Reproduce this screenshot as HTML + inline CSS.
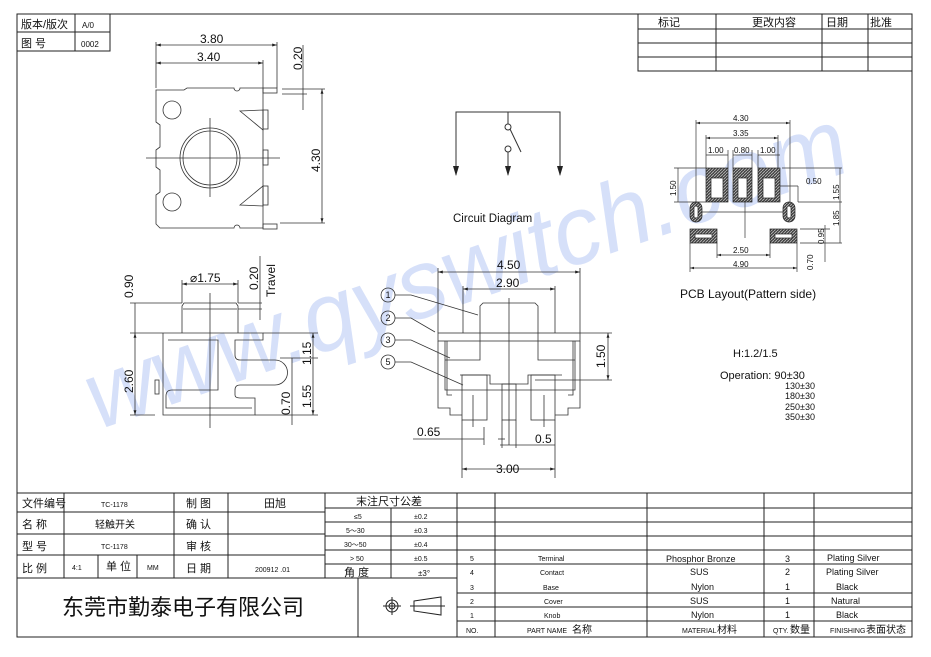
<!DOCTYPE html>
<html><head><meta charset="utf-8"><style>
html,body{margin:0;padding:0;background:#fff;}
svg{display:block;}
text{font-family:"Liberation Sans","Noto Sans CJK SC",sans-serif;fill:#111;}
</style></head><body>
<svg width="931" height="657" viewBox="0 0 931 657" xmlns="http://www.w3.org/2000/svg">
<defs>
<pattern id="h" width="3" height="3" patternUnits="userSpaceOnUse"><rect width="3" height="3" fill="#444"/><path d="M0 3L3 0" stroke="#bbb" stroke-width="0.8"/></pattern>
<marker id="a" viewBox="0 0 10 10" refX="10" refY="5" markerWidth="6" markerHeight="6" orient="auto-start-reverse"><path d="M0 2L10 5L0 8z" fill="#222"/></marker>
</defs>
<text x="98" y="430" transform="rotate(-19 98 430)" font-size="97" font-style="italic" style="fill:#c9d6f7;font-family:'Liberation Sans',sans-serif" opacity="0.75" textLength="800" lengthAdjust="spacingAndGlyphs">www.qyswitch.com</text>

<g stroke="#222" fill="none" stroke-width="1">
<rect x="17" y="14" width="895" height="623"/>
<rect x="17" y="14" width="93" height="37"/><line x1="17" y1="32" x2="110" y2="32"/><line x1="75" y1="14" x2="75" y2="51"/>
<rect x="638" y="14" width="274" height="57"/>
<line x1="638" y1="29" x2="912" y2="29"/><line x1="638" y1="43" x2="912" y2="43"/><line x1="638" y1="57" x2="912" y2="57"/>
<line x1="716" y1="14" x2="716" y2="71"/><line x1="822" y1="14" x2="822" y2="71"/><line x1="868" y1="14" x2="868" y2="71"/>
<line x1="17" y1="493" x2="912" y2="493"/>
<line x1="17" y1="512" x2="325" y2="512"/><line x1="17" y1="534" x2="325" y2="534"/><line x1="17" y1="555" x2="325" y2="555"/>
<line x1="17" y1="578" x2="457" y2="578"/>
<line x1="64" y1="493" x2="64" y2="578"/><line x1="98" y1="555" x2="98" y2="578"/><line x1="137" y1="555" x2="137" y2="578"/>
<line x1="174" y1="493" x2="174" y2="578"/><line x1="228" y1="493" x2="228" y2="578"/><line x1="325" y1="493" x2="325" y2="578"/>
<line x1="358" y1="578" x2="358" y2="637"/><line x1="457" y1="493" x2="457" y2="637"/>
<line x1="325" y1="508" x2="912" y2="508"/><line x1="325" y1="522" x2="912" y2="522"/><line x1="325" y1="536" x2="912" y2="536"/><line x1="325" y1="550" x2="912" y2="550"/><line x1="325" y1="564" x2="912" y2="564"/>
<line x1="457" y1="593" x2="912" y2="593"/><line x1="457" y1="607" x2="912" y2="607"/><line x1="457" y1="621" x2="912" y2="621"/>
<line x1="391" y1="508" x2="391" y2="578"/>
<line x1="495" y1="493" x2="495" y2="637"/><line x1="647" y1="493" x2="647" y2="637"/><line x1="764" y1="493" x2="764" y2="637"/><line x1="814" y1="493" x2="814" y2="637"/>
<circle cx="392" cy="606" r="6"/><circle cx="392" cy="606" r="3"/><line x1="383" y1="606" x2="401" y2="606"/><line x1="392" y1="597" x2="392" y2="615"/>
<path d="M414 601L441 597L441 615L414 611z"/><line x1="410" y1="606" x2="445" y2="606"/>
</g>

<g font-size="11">
<text x="21" y="28">版本/版次</text><text x="82" y="28" font-size="8">A/0</text>
<text x="21" y="47">图 号</text><text x="81" y="47" font-size="8">0002</text>
<text x="658" y="26">标记</text><text x="752" y="26">更改内容</text><text x="826" y="26">日期</text><text x="870" y="26">批准</text>
<text x="22" y="507">文件编号</text><text x="101" y="507" font-size="7">TC-1178</text><text x="186" y="507">制 图</text><text x="264" y="507">田旭</text>
<text x="22" y="528">名 称</text><text x="95" y="528" font-size="10">轻触开关</text><text x="186" y="528">确 认</text>
<text x="22" y="550">型 号</text><text x="101" y="549" font-size="7">TC-1178</text><text x="186" y="550">审 核</text>
<text x="22" y="572">比 例</text><text x="72" y="570" font-size="7">4:1</text><text x="106" y="570">单 位</text><text x="147" y="570" font-size="7">MM</text><text x="186" y="572">日 期</text><text x="255" y="572" font-size="7">200912 .01</text>
<text x="356" y="505" font-size="11">末注尺寸公差</text>
<g font-size="7"><text x="354" y="519">≤5</text><text x="414" y="519">±0.2</text><text x="346" y="533">5～30</text><text x="414" y="533">±0.3</text><text x="344" y="547">30～50</text><text x="414" y="547">±0.4</text><text x="350" y="561">&gt; 50</text><text x="414" y="561">±0.5</text></g>
<text x="344" y="576">角 度</text><text x="418" y="576" font-size="8">±3°</text>
<text x="62" y="615" font-size="22">东莞市勤泰电子有限公司</text>
<g font-size="7"><text x="470" y="561">5</text><text x="470" y="575">4</text><text x="470" y="590">3</text><text x="470" y="604">2</text><text x="470" y="618">1</text><text x="466" y="633">NO.</text>
<text x="538" y="561">Terminal</text><text x="540" y="575">Contact</text><text x="543" y="590">Base</text><text x="544" y="604">Cover</text><text x="544" y="618">Knob</text>
<text x="527" y="633">PART  NAME</text><text x="682" y="633">MATERIAL</text><text x="773" y="633">QTY.</text><text x="830" y="633">FINISHING</text></g>
<text x="572" y="633" font-size="10">名称</text><text x="717" y="633" font-size="10">材料</text><text x="790" y="633" font-size="10">数量</text><text x="866" y="633" font-size="10">表面状态</text>
<g font-size="9"><text x="666" y="562">Phosphor Bronze</text><text x="690" y="575">SUS</text><text x="691" y="590">Nylon</text><text x="690" y="604">SUS</text><text x="691" y="618">Nylon</text>
<text x="785" y="562">3</text><text x="785" y="575">2</text><text x="785" y="590">1</text><text x="785" y="604">1</text><text x="785" y="618">1</text>
<text x="827" y="561">Plating Silver</text><text x="826" y="575">Plating Silver</text><text x="836" y="590">Black</text><text x="831" y="604">Natural</text><text x="836" y="618">Black</text></g>
</g>

<g stroke="#333" fill="none" stroke-width="0.8">
<path d="M156 90H184L187 88H234A3 3 0 0 0 240 88H263V228H240A3 3 0 0 0 234 228H160L156 224V195L160 192V170L156 167V150L160 147V125L156 122Z"/>
<circle cx="210" cy="158" r="30"/><circle cx="210" cy="158" r="27"/>
<circle cx="172" cy="110" r="9"/><circle cx="172" cy="202" r="9"/>
<path d="M240 111L263 110V130ZM240 205L263 186V206Z"/>
<rect x="263" y="110" width="5" height="19"/><rect x="263" y="150" width="5" height="15"/><rect x="263" y="186" width="5" height="19"/>
<rect x="263" y="88" width="14" height="5"/><rect x="263" y="224" width="14" height="5"/>
<line x1="146" y1="158" x2="280" y2="158"/><line x1="210" y1="118" x2="210" y2="197"/>
<line x1="156" y1="88" x2="156" y2="42"/><line x1="263" y1="88" x2="263" y2="60"/><line x1="277" y1="88" x2="277" y2="42"/>
<line x1="156" y1="45" x2="277" y2="45" marker-start="url(#a)" marker-end="url(#a)"/>
<line x1="156" y1="63" x2="263" y2="63" marker-start="url(#a)" marker-end="url(#a)"/>
<line x1="282" y1="89" x2="325" y2="89"/><line x1="282" y1="94" x2="307" y2="94"/><line x1="280" y1="223" x2="325" y2="223"/>
<line x1="303" y1="45" x2="303" y2="110"/><line x1="322" y1="89" x2="322" y2="223" marker-start="url(#a)" marker-end="url(#a)"/>
</g>
<text x="200" y="43" font-size="12">3.80</text><text x="197" y="61" font-size="12">3.40</text>
<text transform="translate(302 70) rotate(-90)" font-size="12">0.20</text>
<text transform="translate(320 172) rotate(-90)" font-size="12">4.30</text>

<g stroke="#333" fill="none" stroke-width="0.8">
<path d="M182 333V306L184 303H236L238 306V333"/><line x1="183" y1="309" x2="237" y2="309"/>
<path d="M155 333H263V340H235V355Q235 360 240 360H275A12 12 0 0 1 275 385H240Q235 385 235 390V395Q235 398 240 398H255V415H163V333"/>
<path d="M168 340H218V390H172Q166 390 166 396V408H252"/>
<rect x="155" y="380" width="4" height="14"/>
<line x1="210" y1="293" x2="210" y2="428"/>
<line x1="182" y1="303" x2="182" y2="280"/><line x1="238" y1="303" x2="238" y2="280"/>
<line x1="182" y1="284" x2="238" y2="284" marker-start="url(#a)" marker-end="url(#a)"/>
<line x1="130" y1="303" x2="182" y2="303"/><line x1="130" y1="333" x2="155" y2="333"/><line x1="130" y1="415" x2="155" y2="415"/>
<line x1="135" y1="303" x2="135" y2="333"/><line x1="135" y1="333" x2="135" y2="415" marker-start="url(#a)" marker-end="url(#a)"/>
<line x1="238" y1="303" x2="262" y2="303"/><line x1="238" y1="309" x2="262" y2="309"/><line x1="260" y1="256" x2="260" y2="320"/>
<line x1="263" y1="333" x2="318" y2="333"/><line x1="280" y1="358" x2="318" y2="358"/><line x1="255" y1="415" x2="318" y2="415"/>
<line x1="313" y1="333" x2="313" y2="415" marker-start="url(#a)" marker-end="url(#a)"/>
<line x1="292" y1="358" x2="292" y2="425"/>
</g>
<text transform="translate(133 298) rotate(-90)" font-size="12">0.90</text>
<text transform="translate(133 393) rotate(-90)" font-size="12">2.60</text>
<text x="190" y="282" font-size="12">⌀1.75</text>
<text transform="translate(258 290) rotate(-90)" font-size="12">0.20</text>
<text transform="translate(275 297) rotate(-90)" font-size="12">Travel</text>
<text transform="translate(311 365) rotate(-90)" font-size="12">1.15</text>
<text transform="translate(311 408) rotate(-90)" font-size="12">1.55</text>
<text transform="translate(290 415) rotate(-90)" font-size="12">0.70</text>

<g stroke="#333" fill="none" stroke-width="0.8">
<path d="M480 333V306L483 303H535L538 306V333"/>
<rect x="438" y="333" width="142" height="8"/>
<path d="M445 341V390H575V341M447 341V395H452M573 341V395H568"/>
<path d="M445 360H480V333M538 333V360H575"/>
<path d="M460 375H490V384H528V375H562"/>
<rect x="462" y="375" width="25" height="45"/><rect x="502" y="384" width="14" height="36"/><rect x="531" y="375" width="24" height="45"/>
<path d="M438 341V408H450V415H462M580 341V408H568V415H555"/>
<line x1="509" y1="298" x2="509" y2="445"/>
<line x1="473" y1="395" x2="473" y2="427"/><line x1="544" y1="395" x2="544" y2="427"/>
<line x1="438" y1="333" x2="438" y2="268"/><line x1="580" y1="333" x2="580" y2="268"/>
<line x1="438" y1="272" x2="580" y2="272" marker-start="url(#a)" marker-end="url(#a)"/>
<line x1="463" y1="333" x2="463" y2="286"/><line x1="555" y1="333" x2="555" y2="286"/>
<line x1="463" y1="289" x2="555" y2="289" marker-start="url(#a)" marker-end="url(#a)"/>
<line x1="580" y1="333" x2="612" y2="333"/><line x1="535" y1="380" x2="612" y2="380"/>
<line x1="608" y1="333" x2="608" y2="380" marker-start="url(#a)" marker-end="url(#a)"/>
<line x1="462" y1="420" x2="462" y2="478"/><line x1="555" y1="420" x2="555" y2="478"/>
<line x1="462" y1="469" x2="555" y2="469" marker-start="url(#a)" marker-end="url(#a)"/>
<line x1="413" y1="439" x2="484" y2="439"/><line x1="484" y1="427" x2="484" y2="445"/><line x1="498" y1="439" x2="505" y2="439"/>
<line x1="500" y1="445" x2="555" y2="445"/><line x1="502" y1="420" x2="502" y2="448"/><line x1="516" y1="420" x2="516" y2="448"/>
<circle cx="388" cy="295" r="7"/><circle cx="388" cy="318" r="7"/><circle cx="388" cy="340" r="7"/><circle cx="388" cy="362" r="7"/>
<path d="M395 295H411L478 315M395 318H411L435 332M395 340H411L450 358M395 362H411L463 385"/>
</g>
<g font-size="9" text-anchor="middle"><text x="388" y="298">1</text><text x="388" y="321">2</text><text x="388" y="343">3</text><text x="388" y="365">5</text></g>
<text x="497" y="269" font-size="12">4.50</text><text x="496" y="287" font-size="12">2.90</text>
<text transform="translate(605 368) rotate(-90)" font-size="12">1.50</text>
<text x="417" y="436" font-size="12">0.65</text><text x="535" y="443" font-size="12">0.5</text>
<text x="496" y="473" font-size="12">3.00</text>

<g stroke="#333" fill="none" stroke-width="1">
<path d="M456 175V112H560V175M508 112V124"/>
<circle cx="508" cy="127" r="3"/><line x1="510" y1="129" x2="521" y2="152"/>
<circle cx="508" cy="149" r="3"/><line x1="508" y1="152" x2="508" y2="175"/>
</g>
<g fill="#222"><path d="M453 166L456 176L459 166z"/><path d="M505 166L508 176L511 166z"/><path d="M557 166L560 176L563 166z"/></g>
<text x="453" y="222" font-size="11.5">Circuit Diagram</text>

<g stroke="#333" fill="none" stroke-width="0.7">
<line x1="696" y1="123" x2="790" y2="123" marker-start="url(#a)" marker-end="url(#a)"/>
<line x1="706" y1="138" x2="778" y2="138" marker-start="url(#a)" marker-end="url(#a)"/>
<line x1="696" y1="120" x2="696" y2="203"/><line x1="790" y1="120" x2="790" y2="203"/>
<line x1="706" y1="135" x2="706" y2="168"/><line x1="778" y1="135" x2="778" y2="168"/>
<line x1="728" y1="150" x2="728" y2="168"/><line x1="733" y1="150" x2="733" y2="168"/><line x1="752" y1="150" x2="752" y2="168"/><line x1="758" y1="150" x2="758" y2="168"/>
<line x1="706" y1="155" x2="728" y2="155"/><line x1="733" y1="155" x2="752" y2="155"/><line x1="758" y1="155" x2="780" y2="155"/>
<line x1="674" y1="168" x2="706" y2="168"/><line x1="674" y1="202" x2="706" y2="202"/><line x1="678" y1="168" x2="678" y2="202"/>
<line x1="782" y1="168" x2="842" y2="168"/><line x1="840" y1="168" x2="840" y2="243"/>
<line x1="776" y1="186" x2="798" y2="186"/><line x1="798" y1="186" x2="798" y2="202"/>
<line x1="693" y1="212" x2="795" y2="212"/><line x1="798" y1="202" x2="842" y2="202"/>
<line x1="800" y1="229" x2="830" y2="229"/><line x1="800" y1="243" x2="842" y2="243"/><line x1="825" y1="225" x2="825" y2="262"/>
<line x1="745" y1="180" x2="745" y2="238"/>
<line x1="717" y1="243" x2="717" y2="258"/><line x1="770" y1="243" x2="770" y2="258"/>
<line x1="717" y1="255" x2="770" y2="255" marker-start="url(#a)" marker-end="url(#a)"/>
<line x1="690" y1="243" x2="690" y2="272"/><line x1="797" y1="243" x2="797" y2="272"/>
<line x1="690" y1="268" x2="797" y2="268" marker-start="url(#a)" marker-end="url(#a)"/>
</g>
<g stroke="#222" stroke-width="0.7">
<rect x="706" y="168" width="22" height="34" fill="url(#h)"/><rect x="711" y="178" width="12" height="20" fill="#fff"/>
<rect x="733" y="168" width="19" height="34" fill="url(#h)"/><rect x="738" y="178" width="9" height="20" fill="#fff"/>
<rect x="758" y="168" width="22" height="34" fill="url(#h)"/><rect x="763" y="178" width="12" height="20" fill="#fff"/>
<rect x="690" y="202" width="12" height="20" rx="6" fill="url(#h)"/><rect x="694" y="206" width="4" height="12" rx="2" fill="#fff"/>
<rect x="783" y="202" width="12" height="20" rx="6" fill="url(#h)"/><rect x="787" y="206" width="4" height="12" rx="2" fill="#fff"/>
<rect x="690" y="229" width="27" height="14" fill="url(#h)"/><rect x="695" y="234" width="17" height="4" fill="#fff"/>
<rect x="770" y="229" width="27" height="14" fill="url(#h)"/><rect x="775" y="234" width="17" height="4" fill="#fff"/>
</g>
<g font-size="8"><text x="733" y="121">4.30</text><text x="733" y="136">3.35</text>
<text x="708" y="153">1.00</text><text x="734" y="153">0.80</text><text x="760" y="153">1.00</text>
<text x="806" y="184">0.50</text><text x="733" y="253">2.50</text><text x="733" y="267">4.90</text>
<text transform="translate(676 196) rotate(-90)">1.50</text>
<text transform="translate(839 200) rotate(-90)">1.55</text>
<text transform="translate(839 226) rotate(-90)">1.85</text>
<text transform="translate(824 244) rotate(-90)">0.95</text>
<text transform="translate(813 270) rotate(-90)">0.70</text></g>
<text x="680" y="298" font-size="12">PCB Layout(Pattern side)</text>
<text x="733" y="357" font-size="11">H:1.2/1.5</text>
<text x="720" y="379" font-size="11">Operation: 90±30</text>
<g font-size="9"><text x="785" y="389">130±30</text><text x="785" y="399">180±30</text><text x="785" y="410">250±30</text><text x="785" y="420">350±30</text></g>
</svg>
</body></html>
